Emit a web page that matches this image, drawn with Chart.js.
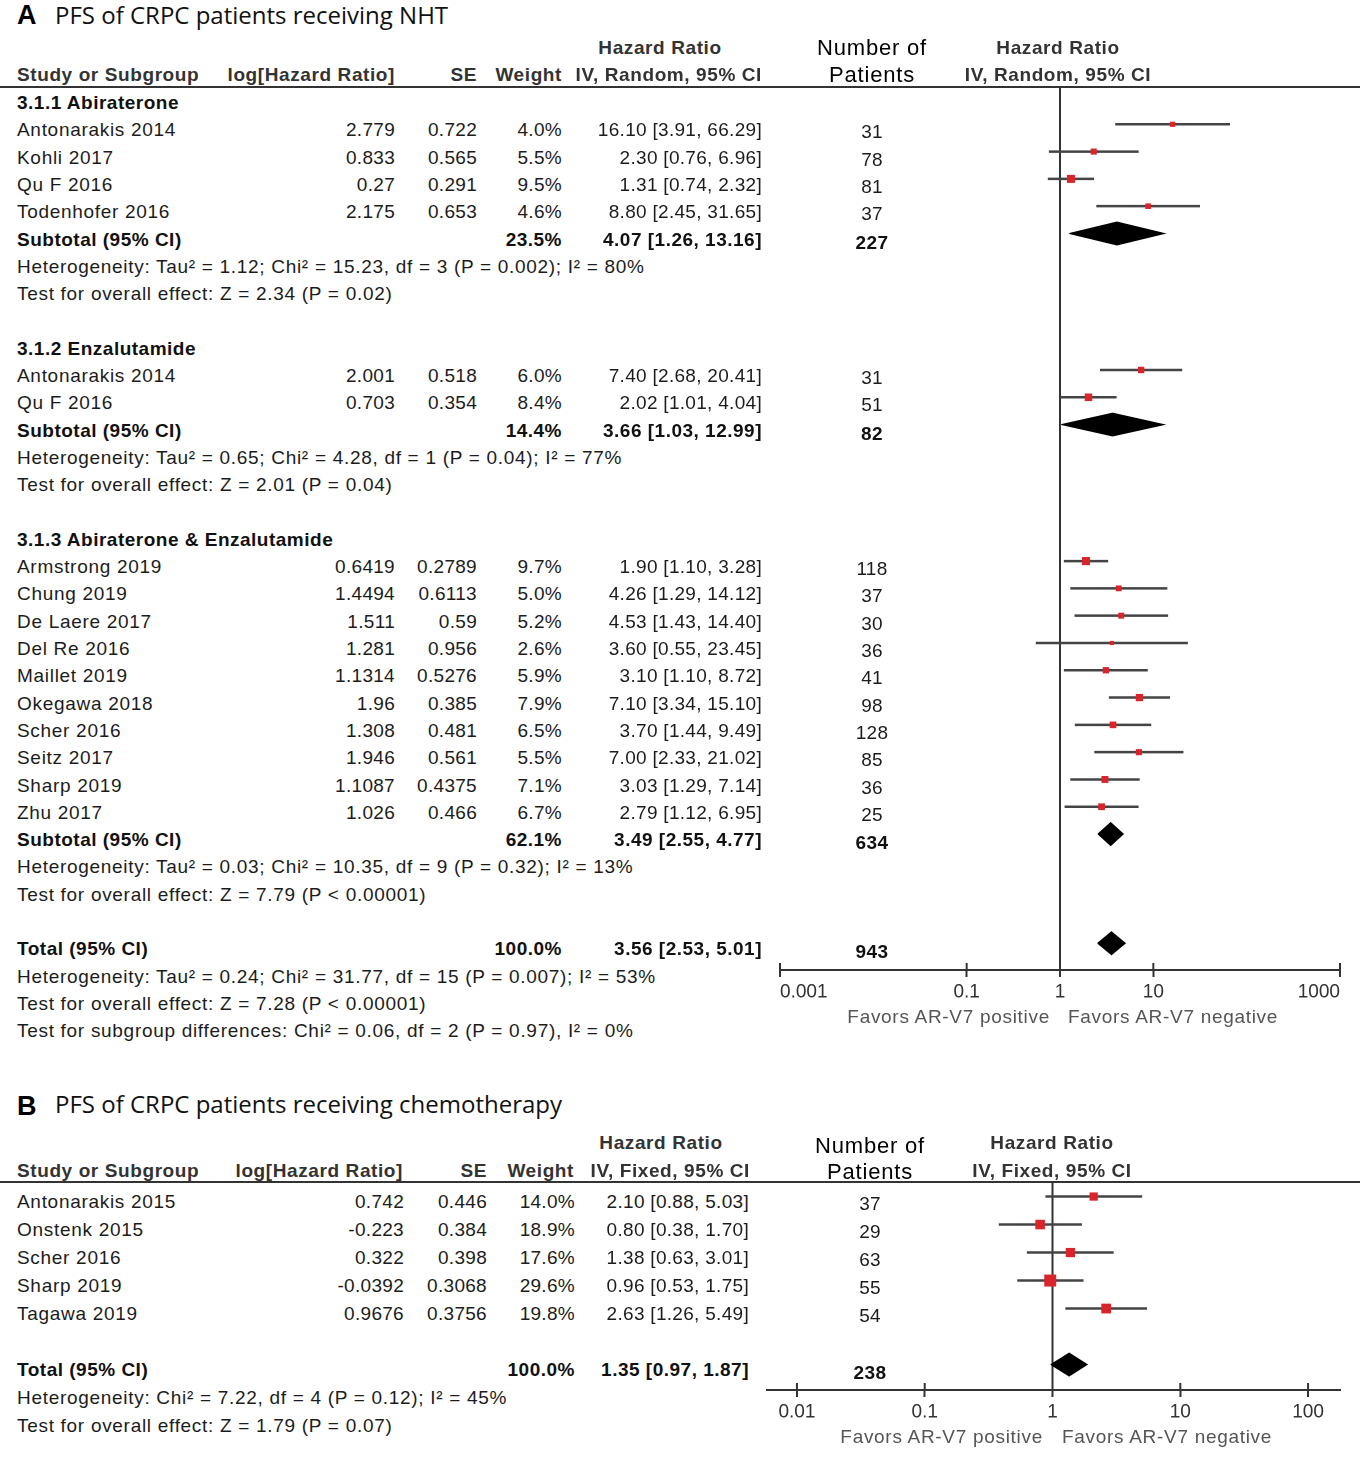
<!DOCTYPE html>
<html>
<head>
<meta charset="utf-8">
<script src="https://cdn.jsdelivr.net/npm/chart.js@4.4.1/dist/chart.umd.min.js"></script>
<style>
  html, body { margin: 0; padding: 0; background: #fff; }
  #page { position: relative; width: 1360px; height: 1461px; overflow: hidden; }
  canvas { position: absolute; }
  .t { position: absolute; white-space: nowrap; font-family: 'Liberation Sans', Arial, sans-serif;
       font-size: 19px; line-height: 22px; color: #1c1c1c; letter-spacing: 0.7px; }
  .num { letter-spacing: 0.3px; }
  .b { font-weight: bold; color: #111; letter-spacing: 0.5px; }
  .h { font-weight: bold; color: #333; letter-spacing: 0.6px; }
  .np { font-size: 22px; color: #000; letter-spacing: 0.8px; }
  .fav { color: #555; }
  .title { font-family: 'Open Sans', 'Noto Sans', sans-serif; font-size: 24px; color: #111; letter-spacing: 0; }
  .big { font-weight: bold; font-size: 27px; color: #000; letter-spacing: 0; }
  .rule { position: absolute; left: 0; width: 1360px; height: 2px; background: #333; }
</style>
</head>
<body>
<div id="page">
  <div class="rule" style="top:86px"></div>
  <div class="rule" style="top:1181px"></div>
  <canvas id="forestA" width="610" height="1045" style="left:750px;top:0px"></canvas>
  <canvas id="forestB" width="610" height="311" style="left:750px;top:1150px"></canvas>
</div>
<script>
// ---------- panel A: PFS, NHT ----------
const studyA = ['Antonarakis 2014', 'Kohli 2017', 'Qu F 2016', 'Todenhofer 2016',
  'Antonarakis 2014', 'Qu F 2016',
  'Armstrong 2019', 'Chung 2019', 'De Laere 2017', 'Del Re 2016', 'Maillet 2019',
  'Okegawa 2018', 'Scher 2016', 'Seitz 2017', 'Sharp 2019', 'Zhu 2017'];
const rowA = [1, 2, 3, 4, 10, 11, 17, 18, 19, 20, 21, 22, 23, 24, 25, 26];
const logHrA = ['2.779', '0.833', '0.27', '2.175', '2.001', '0.703', '0.6419', '1.4494', '1.511',
  '1.281', '1.1314', '1.96', '1.308', '1.946', '1.1087', '1.026'];
const seA = ['0.722', '0.565', '0.291', '0.653', '0.518', '0.354', '0.2789', '0.6113', '0.59',
  '0.956', '0.5276', '0.385', '0.481', '0.561', '0.4375', '0.466'];
const weightA = [4.0, 5.5, 9.5, 4.6, 6.0, 8.4, 9.7, 5.0, 5.2, 2.6, 5.9, 7.9, 6.5, 5.5, 7.1, 6.7];
const hrA = [16.10, 2.30, 1.31, 8.80, 7.40, 2.02, 1.90, 4.26, 4.53, 3.60, 3.10, 7.10, 3.70, 7.00, 3.03, 2.79];
const loA = [3.91, 0.76, 0.74, 2.45, 2.68, 1.01, 1.10, 1.29, 1.43, 0.55, 1.10, 3.34, 1.44, 2.33, 1.29, 1.12];
const hiA = [66.29, 6.96, 2.32, 31.65, 20.41, 4.04, 3.28, 14.12, 14.40, 23.45, 8.72, 15.10, 9.49, 21.02, 7.14, 6.95];
const patientsA = [31, 78, 81, 37, 31, 51, 118, 37, 30, 36, 41, 98, 128, 85, 36, 25];

const groupA = ['3.1.1 Abiraterone', '3.1.2 Enzalutamide', '3.1.3 Abiraterone & Enzalutamide'];
const groupRowA = [0, 9, 16];

const sumLabelA = ['Subtotal (95% CI)', 'Subtotal (95% CI)', 'Subtotal (95% CI)', 'Total (95% CI)'];
const sumRowA = [5, 12, 27, 31];
const sumWeightA = [23.5, 14.4, 62.1, 100.0];
const sumHrA = [4.07, 3.66, 3.49, 3.56];
const sumLoA = [1.26, 1.03, 2.55, 2.53];
const sumHiA = [13.16, 12.99, 4.77, 5.01];
const sumPatientsA = [227, 82, 634, 943];

const noteA = [
  'Heterogeneity: Tau² = 1.12; Chi² = 15.23, df = 3 (P = 0.002); I² = 80%',
  'Test for overall effect: Z = 2.34 (P = 0.02)',
  'Heterogeneity: Tau² = 0.65; Chi² = 4.28, df = 1 (P = 0.04); I² = 77%',
  'Test for overall effect: Z = 2.01 (P = 0.04)',
  'Heterogeneity: Tau² = 0.03; Chi² = 10.35, df = 9 (P = 0.32); I² = 13%',
  'Test for overall effect: Z = 7.79 (P < 0.00001)',
  'Heterogeneity: Tau² = 0.24; Chi² = 31.77, df = 15 (P = 0.007); I² = 53%',
  'Test for overall effect: Z = 7.28 (P < 0.00001)',
  'Test for subgroup differences: Chi² = 0.06, df = 2 (P = 0.97), I² = 0%'];
const noteRowA = [6, 7, 13, 14, 28, 29, 32, 33, 34];

const tickValA = [0.001, 0.1, 1, 10, 1000];
const tickLabelA = ['0.001', '0.1', '1', '10', '1000'];

// ---------- panel B: PFS, chemotherapy ----------
const studyB = ['Antonarakis 2015', 'Onstenk 2015', 'Scher 2016', 'Sharp 2019', 'Tagawa 2019'];
const rowB = [0, 1, 2, 3, 4];
const logHrB = ['0.742', '-0.223', '0.322', '-0.0392', '0.9676'];
const seB = ['0.446', '0.384', '0.398', '0.3068', '0.3756'];
const weightB = [14.0, 18.9, 17.6, 29.6, 19.8];
const hrB = [2.10, 0.80, 1.38, 0.96, 2.63];
const loB = [0.88, 0.38, 0.63, 0.53, 1.26];
const hiB = [5.03, 1.70, 3.01, 1.75, 5.49];
const patientsB = [37, 29, 63, 55, 54];

const sumLabelB = ['Total (95% CI)'];
const sumRowB = [6];
const sumWeightB = [100.0];
const sumHrB = [1.35];
const sumLoB = [0.97];
const sumHiB = [1.87];
const sumPatientsB = [238];

const noteB = [
  'Heterogeneity: Chi² = 7.22, df = 4 (P = 0.12); I² = 45%',
  'Test for overall effect: Z = 1.79 (P = 0.07)'];
const noteRowB = [7, 8];

const tickValB = [0.01, 0.1, 1, 10, 100];
const tickLabelB = ['0.01', '0.1', '1', '10', '100'];

// ---------- text ----------
const page = document.getElementById('page');
function put(text, x, y, align, cls) {
  const d = document.createElement('div');
  d.className = 't ' + (cls || '');
  d.textContent = text;
  d.style.left = x + 'px';
  d.style.top = y + 'px';
  const shift = align === 'r' ? -100 : align === 'c' ? -50 : 0;
  d.style.transform = 'translate(' + shift + '%, -50%)';
  page.appendChild(d);
}
const ci = (h, l, u) => h.toFixed(2) + ' [' + l.toFixed(2) + ', ' + u.toFixed(2) + ']';

function table(p) {
  const y = r => p.y0 + p.dy * r;
  const c = p.col;
  p.group.forEach((g, i) => put(g, c.name, y(p.groupRow[i]), 'l', 'b'));
  p.study.forEach((s, i) => {
    const r = y(p.row[i]);
    put(s, c.name, r, 'l');
    put(p.logHr[i], c.loghr, r, 'r', 'num');
    put(p.se[i], c.se, r, 'r', 'num');
    put(p.weight[i].toFixed(1) + '%', c.weight, r, 'r', 'num');
    put(ci(p.hr[i], p.lo[i], p.hi[i]), c.ci, r, 'r', 'num');
    put(String(p.patients[i]), c.n, r + 2, 'c', 'num');
  });
  p.sumLabel.forEach((s, i) => {
    const r = y(p.sumRow[i]);
    put(s, c.name, r, 'l', 'b');
    put(p.sumWeight[i].toFixed(1) + '%', c.weight, r, 'r', 'b');
    put(ci(p.sumHr[i], p.sumLo[i], p.sumHi[i]), c.ci, r, 'r', 'b');
    put(String(p.sumPatients[i]), c.n, r + 3, 'c', 'b');
  });
  p.note.forEach((s, i) => put(s, c.name, y(p.noteRow[i]), 'l'));
}

put('A', 17, 15, 'l', 'big');
put('PFS of CRPC patients receiving NHT', 55, 15, 'l', 'title');
put('Hazard Ratio', 660, 48, 'c', 'h');
put('Number of', 872, 48, 'c', 'np');
put('Hazard Ratio', 1058, 48, 'c', 'h');
put('Study or Subgroup', 17, 75, 'l', 'h');
put('log[Hazard Ratio]', 395, 75, 'r', 'h');
put('SE', 477, 75, 'r', 'h');
put('Weight', 562, 75, 'r', 'h');
put('IV, Random, 95% CI', 762, 75, 'r', 'h');
put('Patients', 872, 75, 'c', 'np');
put('IV, Random, 95% CI', 1058, 75, 'c', 'h');
put('Favors AR-V7 positive', 1050, 1017, 'r', 'fav');
put('Favors AR-V7 negative', 1068, 1017, 'l', 'fav');

table({ y0: 103, dy: 27.3, col: { name: 17, loghr: 395, se: 477, weight: 562, ci: 762, n: 872 },
  group: groupA, groupRow: groupRowA, study: studyA, row: rowA, logHr: logHrA, se: seA,
  weight: weightA, hr: hrA, lo: loA, hi: hiA, patients: patientsA,
  sumLabel: sumLabelA, sumRow: sumRowA, sumWeight: sumWeightA, sumHr: sumHrA, sumLo: sumLoA,
  sumHi: sumHiA, sumPatients: sumPatientsA, note: noteA, noteRow: noteRowA });

put('B', 17, 1106, 'l', 'big');
put('PFS of CRPC patients receiving chemotherapy', 55, 1104, 'l', 'title');
put('Hazard Ratio', 661, 1143, 'c', 'h');
put('Number of', 870, 1146, 'c', 'np');
put('Hazard Ratio', 1052, 1143, 'c', 'h');
put('Study or Subgroup', 17, 1171, 'l', 'h');
put('log[Hazard Ratio]', 403, 1171, 'r', 'h');
put('SE', 487, 1171, 'r', 'h');
put('Weight', 574, 1171, 'r', 'h');
put('IV, Fixed, 95% CI', 750, 1171, 'r', 'h');
put('Patients', 870, 1172, 'c', 'np');
put('IV, Fixed, 95% CI', 1052, 1171, 'c', 'h');
put('Favors AR-V7 positive', 1043, 1437, 'r', 'fav');
put('Favors AR-V7 negative', 1062, 1437, 'l', 'fav');

table({ y0: 1202, dy: 28, col: { name: 17, loghr: 404, se: 487, weight: 575, ci: 749, n: 870 },
  group: [], groupRow: [], study: studyB, row: rowB, logHr: logHrB, se: seB,
  weight: weightB, hr: hrB, lo: loB, hi: hiB, patients: patientsB,
  sumLabel: sumLabelB, sumRow: sumRowB, sumWeight: sumWeightB, sumHr: sumHrB, sumLo: sumLoB,
  sumHi: sumHiB, sumPatients: sumPatientsB, note: noteB, noteRow: noteRowB });

// ---------- forest plots ----------
// tick marks in RevMan plots cross the axis, chart.js only draws the lower half
const crossTicks = {
  id: 'crossTicks',
  afterDraw(chart) {
    const x = chart.scales.x, ctx = chart.ctx, yb = chart.chartArea.bottom;
    ctx.save();
    ctx.strokeStyle = '#333';
    ctx.lineWidth = 2;
    x.ticks.forEach(t => {
      const px = x.getPixelForValue(t.value);
      ctx.beginPath();
      ctx.moveTo(px, yb - 7);
      ctx.lineTo(px, yb);
      ctx.stroke();
    });
    ctx.restore();
  }
};

function forest(id, o) {
  const ds = [];
  ds.push({
    data: o.hr.map((v, i) => ({ x: v, y: o.row[i] })),
    pointStyle: 'rect',
    pointRadius: o.weight.map(w => o.k * Math.sqrt(w) / Math.SQRT2),
    backgroundColor: '#d8242a', borderWidth: 0, order: 0
  });
  o.sumHr.forEach((v, i) => {
    const r = o.sumRow[i];
    ds.push({
      data: [{ x: o.sumLo[i], y: r }, { x: v, y: r - o.dh }, { x: o.sumHi[i], y: r },
             { x: v, y: r + o.dh }, { x: o.sumLo[i], y: r }],
      showLine: true, fill: 'shape', backgroundColor: '#000', borderColor: '#000',
      borderWidth: 1, pointRadius: 0, order: 1
    });
  });
  o.hr.forEach((v, i) => {
    ds.push({
      data: [{ x: o.lo[i], y: o.row[i] }, { x: o.hi[i], y: o.row[i] }],
      showLine: true, borderColor: '#444', borderWidth: 2.5, pointRadius: 0, order: 2
    });
  });
  ds.push({
    data: [{ x: 1, y: o.yMin }, { x: 1, y: o.yMax }],
    showLine: true, borderColor: '#333', borderWidth: 2, pointRadius: 0, clip: false, order: 3
  });

  new Chart(document.getElementById(id), {
    type: 'scatter',
    data: { datasets: ds },
    plugins: [crossTicks],
    options: {
      responsive: false,
      animation: false,
      events: [],
      devicePixelRatio: 2,
      layout: { padding: o.pad },
      plugins: { legend: { display: false }, tooltip: { enabled: false } },
      scales: {
        x: {
          type: 'logarithmic', min: o.xMin, max: o.xMax,
          afterBuildTicks: s => { s.ticks = o.tickVal.map(v => ({ value: v })); },
          afterFit: s => { s.height = 40; },
          ticks: {
            autoSkip: false, maxRotation: 0, minRotation: 0, padding: 4, color: '#333',
            align: o.tickAlign,
            font: { family: 'Liberation Sans, Arial, sans-serif', size: 19 },
            callback: (v, i) => o.tickLabel[i]
          },
          grid: { drawOnChartArea: false, tickLength: 7, color: '#333', lineWidth: 2 },
          border: { color: '#333', width: 2 }
        },
        y: { type: 'linear', display: false, reverse: true, min: o.yMin, max: o.yMax }
      }
    }
  });
}

forest('forestA', {
  hr: hrA, lo: loA, hi: hiA, row: rowA, weight: weightA, k: 2.6,
  sumHr: sumHrA, sumLo: sumLoA, sumHi: sumHiA, sumRow: sumRowA, dh: 0.42,
  xMin: 0.001, xMax: 1000, tickVal: tickValA, tickLabel: tickLabelA, tickAlign: 'inner',
  yMin: -0.366, yMax: 31.98,
  pad: { top: 87, left: 30, right: 20, bottom: 35 }
});

forest('forestB', {
  hr: hrB, lo: loB, hi: hiB, row: rowB, weight: weightB, k: 2.2,
  sumHr: sumHrB, sumLo: sumLoB, sumHi: sumHiB, sumRow: sumRowB, dh: 0.41,
  xMin: 0.00583, xMax: 177.8, tickVal: tickValB, tickLabel: tickLabelB, tickAlign: 'center',
  yMin: -0.52, yMax: 6.91,
  pad: { top: 32, left: 17, right: 20, bottom: 31 }
});
</script>
</body>
</html>
